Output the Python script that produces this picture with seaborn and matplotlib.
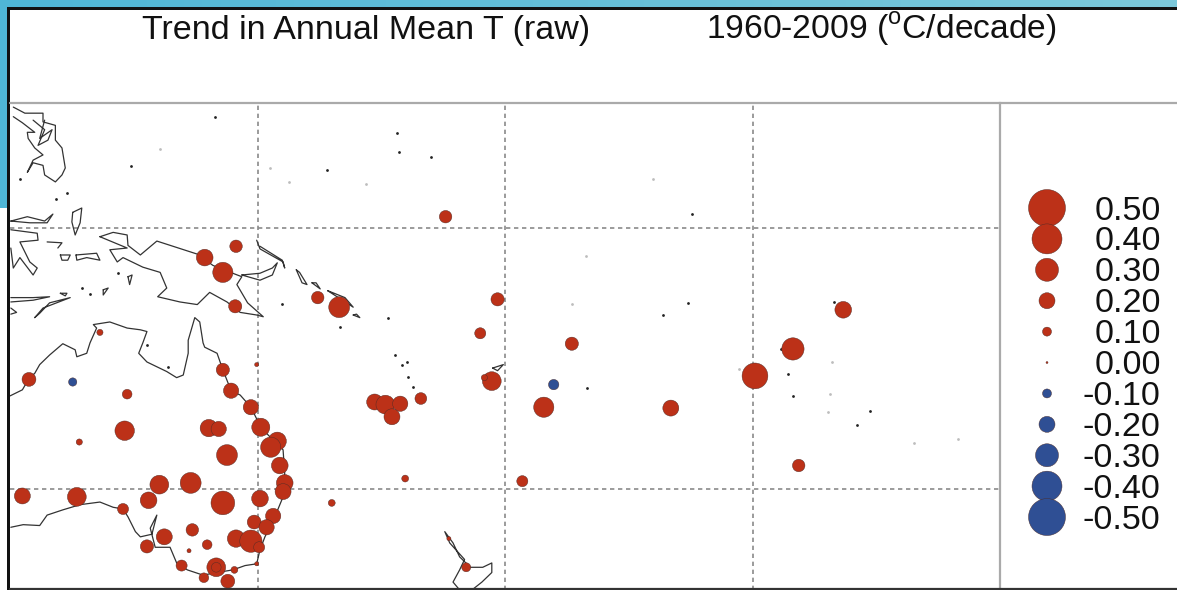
#!/usr/bin/env python
# coding: utf-8

import numpy as np
import pandas as pd
import seaborn as sns
import matplotlib.pyplot as plt
from matplotlib.colors import LinearSegmentedColormap
from matplotlib.lines import Line2D
from matplotlib.patches import Rectangle

# Stations: longitude (deg E), latitude, trend (C/decade)
station_lon = [
    147.4, 143.6, 145.8, 147.3, 130.9, 157.3, 159.9, 172.8, 122.3, 127.6,
    134.2, 133.9, 128.4, 145.8, 149.9, 146.8, 149.2, 150.4, 144.1, 145.3,
    152.4, 151.6, 146.3, 152.7, 153.3, 153.1, 138.1, 141.9, 121.5, 128.1,
    136.8, 150.3, 145.8, 159.0, 133.7, 151.9, 149.6, 151.1, 142.1, 138.7,
    147.4, 149.2, 136.6, 143.9, 150.2, 141.7, 149.9, 140.8, 145.0, 145.0,
    147.2, 143.5, 146.4, 179.1, 177.0, 188.1, 178.4, 177.5, 185.9, 184.7,
    169.8, 164.2, 165.5, 167.3, 166.3, 167.9, 182.1, 173.2, 175.3, 221.0,
    214.9, 210.3, 200.1, 215.6,
]
station_lat = [
    -2.1, -3.4, -5.1, -9.0, -12.0, -8.0, -9.1, 1.3, -17.4, -17.7,
    -19.1, -23.3, -24.6, -16.3, -15.7, -18.7, -20.6, -22.9, -23.0, -23.1,
    -24.5, -25.2, -26.1, -27.3, -29.3, -30.3, -29.5, -29.3, -30.8, -30.9,
    -31.3, -31.1, -31.6, -31.6, -32.3, -33.1, -33.8, -34.4, -34.7, -35.5,
    -35.7, -36.0, -36.6, -36.4, -36.7, -37.1, -38.6, -38.8, -39.0, -39.0,
    -39.3, -40.2, -40.6, -8.2, -12.1, -13.3, -17.6, -17.2, -18.0, -20.6,
    -19.6, -20.0, -20.3, -20.2, -21.7, -28.8, -29.1, -35.7, -39.0, -9.4,
    -13.9, -17.0, -20.7, -27.3,
]
station_trend = [
    0.15, 0.21, 0.26, 0.16, 0.06, 0.15, 0.27, 0.15, 0.17, -0.09,
    0.11, 0.25, 0.06, 0.16, 0.03, 0.19, 0.19, 0.23, 0.22, 0.19,
    0.23, 0.26, 0.27, 0.21, 0.21, 0.20, 0.24, 0.27, 0.20, 0.24,
    0.21, 0.21, 0.31, 0.07, 0.13, 0.19, 0.17, 0.19, 0.15, 0.20,
    0.22, 0.29, 0.16, 0.11, 0.13, 0.03, 0.03, 0.13, 0.24, 0.11,
    0.07, 0.11, 0.17, 0.16, 0.13, 0.16, 0.24, 0.06, -0.12, 0.26,
    0.14, 0.20, 0.24, 0.19, 0.20, 0.07, 0.13, 0.03, 0.10, 0.21,
    0.29, 0.34, 0.20, 0.15,
]

legend_values = [0.5, 0.4, 0.3, 0.2, 0.1, 0.0, -0.1, -0.2, -0.3, -0.4, -0.5]
legend_labels = ["0.50", "0.40", "0.30", "0.20", "0.10", "0.00",
                 "-0.10", "-0.20", "-0.30", "-0.40", "-0.50"]

# Coastlines, rough tracing
australia = [
    (120, -19.3), (121.5, -18.6), (122.3, -17.3), (123, -16.7), (123.6, -15.7),
    (124.8, -14.6), (126.4, -13.3), (127.9, -14), (128.1, -14.8), (129.3, -14.4),
    (129.7, -13.2), (130.5, -11.5), (130.1, -11.1), (132.1, -10.8), (134.2, -11.5),
    (135.8, -11.7), (136.6, -11.9), (136.1, -13.2), (135.6, -14.4), (136.6, -15.4),
    (139, -16.5), (140.2, -17.2), (141, -16.9), (141.6, -14.4), (141.6, -12.9),
    (142.4, -10.3), (143, -10.8), (143.4, -13.2), (143.6, -13.7), (145.1, -14.4),
    (145.8, -16.3), (146.8, -18.7), (147.9, -19.2), (149.2, -20.6), (150.4, -22.9),
    (151.5, -24), (153.1, -25.5), (153.3, -28.2), (153.1, -30.9), (152.1, -33.2),
    (150.9, -35.5), (150.3, -37), (149.9, -38.6), (148.5, -38.8), (147, -39.3),
    (145.1, -39.6), (143.4, -39.9), (141.5, -39.3), (140.2, -38.5), (139.4, -36.7),
    (137.6, -36.7), (137.0, -34.5), (137.8, -33), (137.2, -35.2), (135.8, -35.5),
    (135.2, -34.9), (134.3, -33.2), (133.7, -32.3), (132.5, -32.1), (130.9, -31.5),
    (128.5, -31.8), (126.4, -32.4), (124.5, -33), (123.6, -34.2), (121.6, -34.1),
    (120.1, -34.4),
]
new_guinea = [
    (130.9, -1), (132.5, -0.5), (134.2, -0.8), (134.3, -2), (135.8, -3.1), (137.8, -1.5),
    (142.7, -3), (144.6, -4.3), (147, -5.2), (148.1, -5.6), (147.5, -6.5), (148.8, -8.6),
    (150.7, -10.2), (149.9, -10), (147.9, -9.7), (146.3, -8.5), (144.2, -7.4), (142.7, -8.8),
    (140.6, -8.5), (137.9, -7.9), (139, -6.9), (138.2, -5.1), (136.1, -4.5), (133.7, -3.4),
    (133, -3.9), (132.1, -2.5), (134.2, -2.3), (130.9, -1),
]
new_britain = [(148.1, -5.4), (150.3, -6), (151.8, -5.4), (152.4, -4), (151.8, -4.6),
               (150.3, -5.2), (148.1, -5.4)]
new_ireland = [(149.9, -1.4), (150.3, -2.4), (153.1, -3.9), (153.3, -4.6), (153, -3.7),
               (150.3, -2.1)]
solomon_a = [(154.7, -4.8), (155.4, -6.3), (156, -6.5), (155.1, -5.1), (154.7, -4.8)]
solomon_b = [(156.6, -6.3), (157.6, -7), (157.1, -6.3), (156.6, -6.3)]
solomon_c = [(158.5, -7.2), (161.6, -9.1), (160.6, -8), (158.5, -7.2)]
solomon_d = [(161.6, -10), (162.4, -10.3), (162, -9.9), (161.6, -10)]
philippines = [(120.4, 13.9), (121.8, 13.2), (124, 13.2), (124, 12.2), (125.5, 11.8), (125.5, 10.1),
               (126.3, 9.2), (126.7, 6.9), (126.3, 6.1), (125.5, 5.3), (124.2, 6.1), (124, 7.2),
               (122.8, 7.5), (122.1, 6.4), (122.8, 7.8), (124, 8.4), (123, 9.2), (122.2, 10.3),
               (122.1, 11), (123, 11), (121.5, 12.1), (120.4, 12.8)]
visayas_inner = [(122.8, 12.4), (124.2, 11.3), (123.4, 9.5), (124.6, 10.1), (125.1, 11.3),
                 (123.6, 10.3), (124.2, 12.4)]
halmahera = [(127.6, 1.8), (128.7, 2.3), (128.5, 0.6), (127.9, -0.8), (127.5, 0.7), (127.6, 1.8)]
north_arm = [(120.1, 0.8), (122.4, 0.6), (124.5, 0.6), (125.2, 1.6), (124.2, 0.8),
             (122.1, 1.3), (120.1, 0.8)]
sulawesi = [(120.1, -0.2), (123.3, -0.6), (123.4, -1.4), (121.2, -1.6), (122.4, -3.9),
            (123.3, -4.6), (122.8, -5.4), (121.2, -3.4), (120.4, -4.6), (120.1, -2.3)]
sula = [(124.5, -1.6), (126.3, -1.7), (125.8, -2.3)]
buru = [(126.1, -3.1), (127.3, -3.1), (127, -3.7), (126.3, -3.7), (126.1, -3.1)]
seram = [(128, -3.1), (130.5, -2.9), (130.9, -3.7), (129.3, -3.4), (128.1, -3.7), (128, -3.1)]
aru = [(134.3, -5.6), (134.8, -5.4), (134.5, -6.5), (134.3, -5.6)]
tanimbar = [(131.3, -7.1), (131.9, -6.9), (131.3, -7.7), (131.3, -7.1)]
flores = [(120.1, -8), (122.8, -8), (124.8, -7.9), (122.8, -8.3), (120.1, -8.5)]
timor = [(123, -10.3), (124, -9.2), (127.3, -8), (124.8, -8.6), (123.6, -9.8), (123, -10.3)]
sumba = [(120.1, -9.2), (120.8, -9.7), (120.1, -9.9)]
wetar = [(126.1, -7.5), (126.9, -7.5), (126.7, -7.8), (126.1, -7.5)]
fiji = [(178.5, -16.1), (179.8, -15.7), (179.1, -16.4), (178.5, -16.1)]
new_zealand = [(174.5, -41.6), (173.7, -40.7), (174.5, -39.3), (175.1, -38.1), (173.3, -36.2),
               (172.7, -34.9), (173.7, -36.2), (174.5, -37.8), (175.8, -39), (177.3, -39),
               (178.4, -38.5), (178.4, -39.6), (177.2, -40.7), (176, -41.6)]

coasts = [australia, new_guinea, new_britain, new_ireland, solomon_a, solomon_b, solomon_c,
          solomon_d, philippines, visayas_inner, halmahera, north_arm, sulawesi, sula,
          buru, seram, aru, tanimbar, flores, timor, sumba, wetar, fiji, new_zealand]

# Tiny islands, too small to trace
dark_isle_lon = [144.8, 126.9, 121.2, 125.6, 134.7, 166.9, 167.1, 171.0, 158.4, 202.7, 202.2,
                 199.1, 219.9, 213.5, 214.3, 214.9, 224.2, 222.7, 165.8, 189.9, 153.0, 160.0,
                 133.1, 128.7, 129.7, 136.6, 139.2, 166.7, 167.5, 168.1, 168.2, 168.8]
dark_isle_lat = [12.8, 4.0, 5.6, 3.3, 7.1, 10.9, 8.7, 8.2, 6.7, 1.6, -8.6,
                 -10.0, -8.5, -13.9, -16.8, -19.3, -21.0, -22.6, -10.3, -18.4, -8.7, -11.4,
                 -5.2, -6.9, -7.6, -13.4, -16.0, -14.6, -15.7, -15.4, -17.1, -18.3]
pale_isle_lon = [138.2, 153.8, 163.1, 151.5, 197.9, 189.8, 188.1, 208.4, 219.6, 219.4, 219.1,
                 229.6, 234.9]
pale_isle_lat = [9.1, 5.3, 5.1, 6.9, 5.6, -3.2, -8.7, -16.2, -15.4, -19.1, -21.1,
                 -24.7, -24.2]

title_left = "Trend in Annual Mean T (raw)"
title_right = "1960-2009 ($^{\\mathrm{o}}$C/decade)"

RED = "#BC3118"
BLUE = "#2F4F94"
EDGE = "#4a2a26"
W, H = 1177, 590

sns.set_theme(style="white")
plt.rcParams["font.family"] = ["Liberation Sans", "DejaVu Sans"]
plt.rcParams["mathtext.fontset"] = "custom"
plt.rcParams["mathtext.rm"] = "Liberation Sans"


def circle_table(values):
    # area in points^2 for a circle whose diameter grows with |trend|
    t = pd.DataFrame({"trend": values})
    t["area"] = ((2 + 70 * t["trend"].abs()) * 0.72) ** 2
    t["kind"] = ["warm" if v >= 0 else "cool" for v in t["trend"]]
    return t


fig = plt.figure(figsize=(W / 100, H / 100), dpi=100, facecolor="white")

# slide background and black frame
band = fig.add_axes([0, 1 - 8 / H, 1, 8 / H])
band.imshow(np.linspace(0, 1, 64).reshape(1, -1), aspect="auto",
            cmap=LinearSegmentedColormap.from_list("slide", ["#4FB6D6", "#7CC8DA"]))
band.axis("off")
fig.add_artist(Rectangle((0, 1 - 208 / H), 7 / W, 208 / H, transform=fig.transFigure, color="#4FB6D6", lw=0))
fig.add_artist(Rectangle((7 / W, 1 - 10 / H), 1 - 7 / W, 3 / H, transform=fig.transFigure, color="#111111", lw=0))
fig.add_artist(Rectangle((7 / W, 0), 3 / W, 1 - 7.5 / H, transform=fig.transFigure, color="#111111", lw=0))
fig.add_artist(Line2D([10 / W, 1], [1 - 103 / H, 1 - 103 / H], color="#aaaaaa", lw=1.6))
fig.add_artist(Line2D([10 / W, 1], [1 / H, 1 / H], color="#333333", lw=1.6))

ax = fig.add_axes([10 / W, 0, 990 / W, 487 / H])
ax.set_xlim(120, 240)
ax.set_ylim(-41.61, 14.37)
ax.set_xticks([150, 180, 210])
ax.set_yticks([0, -30])
ax.grid(True, color="#8a8a8a", lw=1.2, ls=(0, (2.6, 2.2)))
ax.tick_params(length=0, labelbottom=False, labelleft=False)
ax.set_axisbelow(True)
for side in ["top", "left", "bottom"]:
    ax.spines[side].set_visible(False)
ax.spines["right"].set_color("#aaaaaa")
ax.spines["right"].set_linewidth(1.6)

for coast in coasts:
    sns.lineplot(x=[p[0] for p in coast], y=[p[1] for p in coast], sort=False, estimator=None,
                 color="#333333", lw=0.9, legend=False, ax=ax)

sns.scatterplot(x=dark_isle_lon, y=dark_isle_lat, color="#222222", s=4, lw=0, legend=False, ax=ax)
sns.scatterplot(x=pale_isle_lon, y=pale_isle_lat, color="#bdbdbd", s=4, lw=0, legend=False, ax=ax)

stations = circle_table(station_trend)
stations["lon"] = station_lon
stations["lat"] = station_lat
sns.scatterplot(data=stations, x="lon", y="lat", hue="kind", size="area",
                sizes=(stations["area"].min(), stations["area"].max()),
                palette={"warm": RED, "cool": BLUE}, edgecolor=EDGE, linewidth=0.3,
                legend=False, zorder=3, ax=ax)
ax.set_xlim(120, 240)
ax.set_ylim(-41.61, 14.37)
ax.set_xlabel("")
ax.set_ylabel("")

# size key on the right
lax = fig.add_axes([1000 / W, 0, 177 / W, 1])
lax.patch.set_alpha(0)
key = circle_table(legend_values)
key["x"] = 0
sns.scatterplot(data=key, x="x", y="trend", hue="kind", size="area",
                sizes=(key["area"].min(), key["area"].max()),
                palette={"warm": RED, "cool": BLUE}, edgecolor=EDGE, linewidth=0.3,
                legend=False, ax=lax)
lax.set_xlim(-47, 130)
lax.set_ylim(-0.736, 1.173)
lax.axis("off")
for v, lab in zip(legend_values, legend_labels):
    lax.annotate(lab, (113, v), xytext=(0.5, -2.2), textcoords="offset points",
                 ha="right", va="center", fontsize=24.6, color="#111111")

fig.text(142 / W, 1 - 39 / H, title_left, ha="left", va="baseline", fontsize=24.5, color="#111111")
fig.text(706 / W, 1 - 39 / H, title_right, ha="left", va="baseline", fontsize=24.2, color="#111111")

fig.savefig("out.png", dpi=100)
